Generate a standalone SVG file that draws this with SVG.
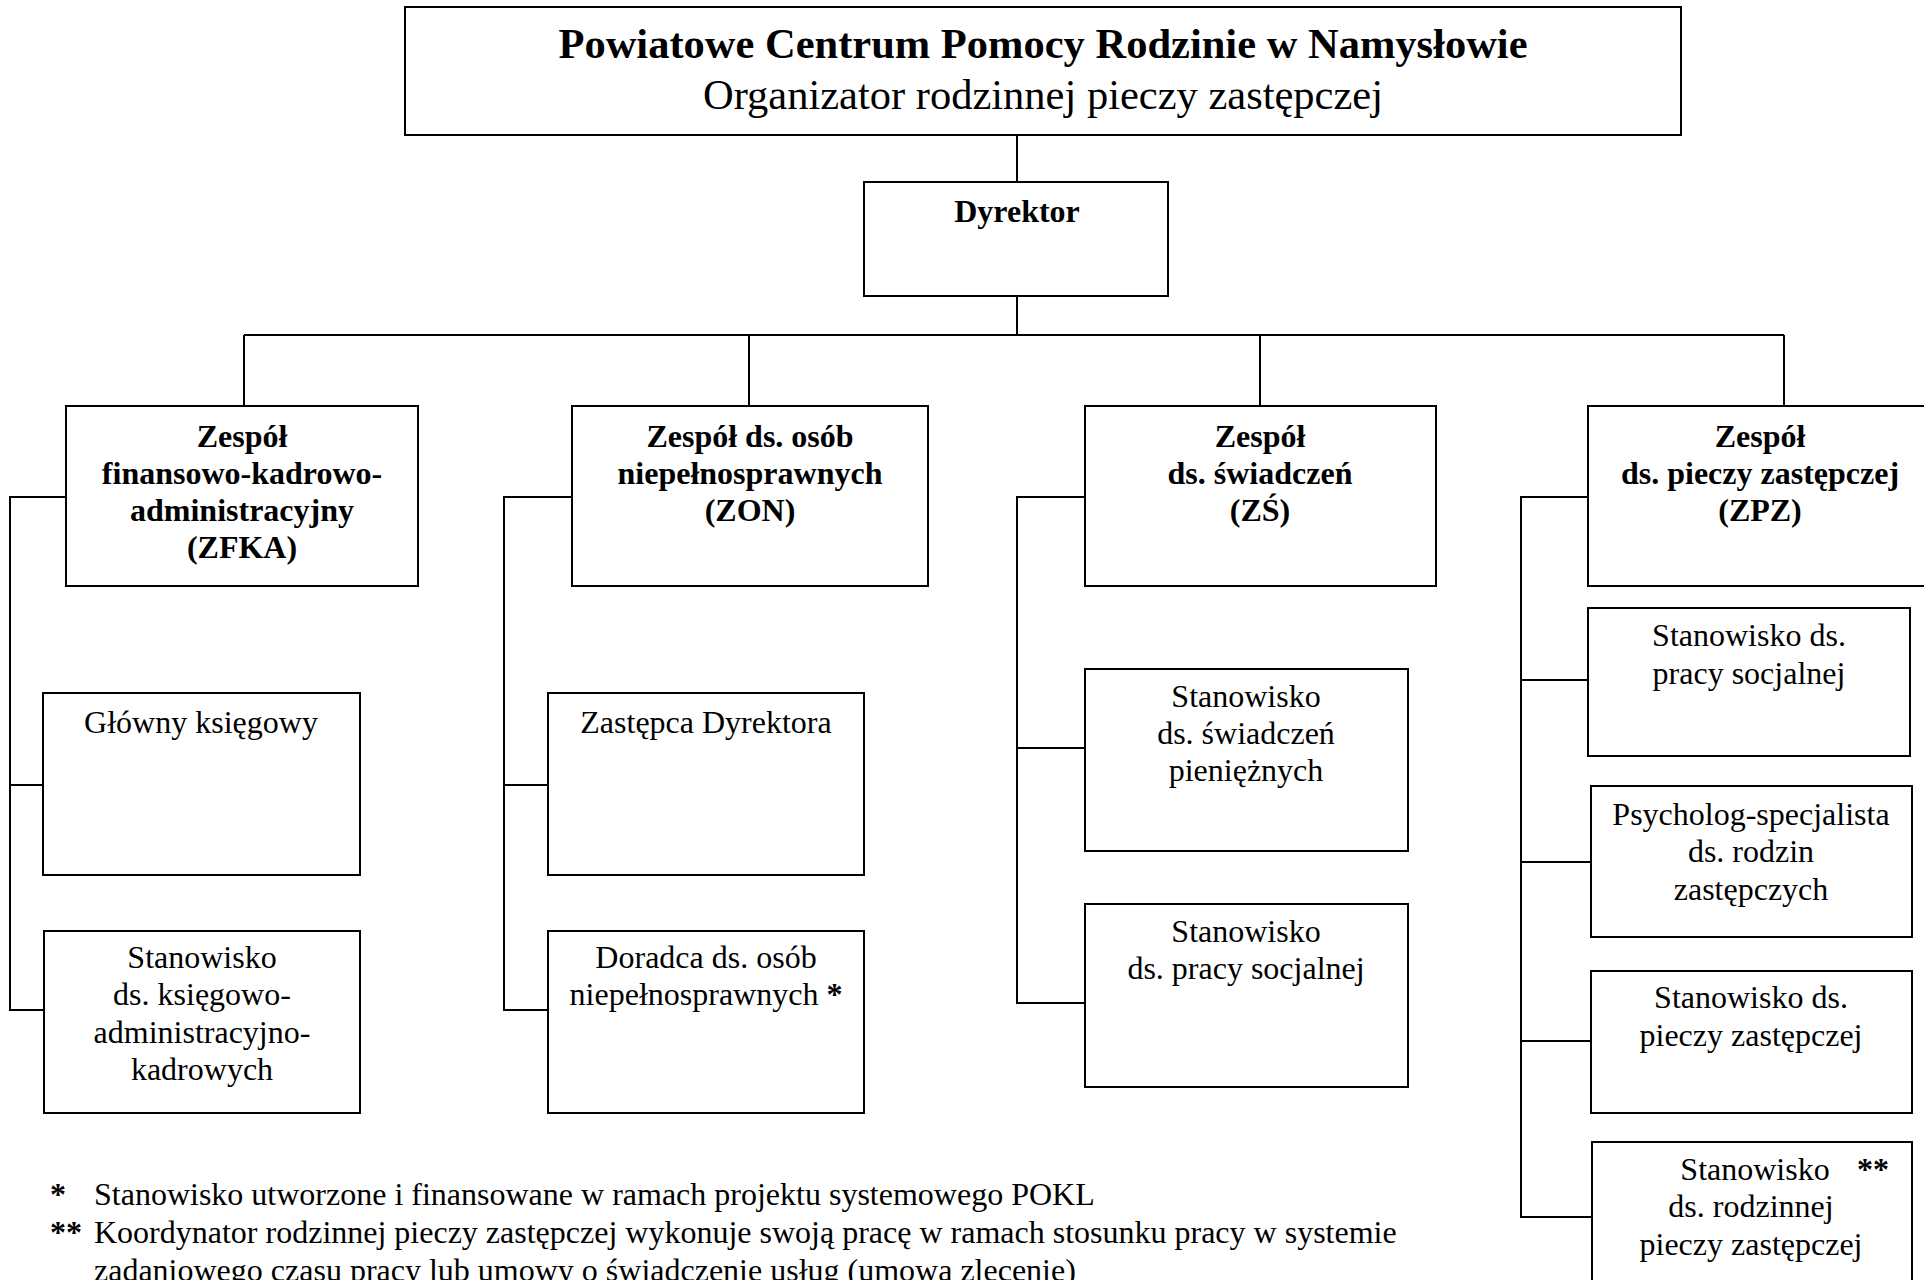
<svg xmlns="http://www.w3.org/2000/svg" width="1924" height="1280" viewBox="0 0 1924 1280">
<style>
.box{fill:#fff;stroke:#000;stroke-width:2}
.ln{fill:none;stroke:#000;stroke-width:2}
text{font-family:"Liberation Serif","Times New Roman",serif;fill:#000;text-anchor:middle;font-size:32px}
.b{font-weight:bold}
.l{text-anchor:start}
</style>
<rect width="1924" height="1280" fill="#fff"/>
<g id="connectors">
<path class="ln" d="M1017 135V182M1017 296V335M244 335H1784M244 335V406M749 335V406M1260 335V406M1784 335V406"/>
<path class="ln" d="M66 497H10V1010H44M10 785H43"/>
<path class="ln" d="M572 497H504V1010H548M504 785H548"/>
<path class="ln" d="M1085 497H1017V1003H1085M1017 748H1085"/>
<path class="ln" d="M1588 497H1521V1217H1592M1521 680H1588M1521 862H1591M1521 1041H1591"/>
</g>
<g id="title">
<rect class="box" x="405" y="7" width="1276" height="128"/>
<text class="b" x="1043" y="58" style="font-size:42.5px">Powiatowe Centrum Pomocy Rodzinie w Namysłowie</text>
<text x="1043" y="109" style="font-size:42.5px">Organizator rodzinnej pieczy zastępczej</text>
</g>
<g id="dyrektor">
<rect class="box" x="864" y="182" width="304" height="114"/>
<text class="b" x="1017" y="222">Dyrektor</text>
</g>
<g id="zfka">
<rect class="box" x="66" y="406" width="352" height="180"/>
<text class="b" x="242" y="447">Zespół</text>
<text class="b" x="242" y="484">finansowo-kadrowo-</text>
<text class="b" x="242" y="521">administracyjny</text>
<text class="b" x="242" y="558">(ZFKA)</text>
</g>
<g id="zon">
<rect class="box" x="572" y="406" width="356" height="180"/>
<text class="b" x="750" y="447">Zespół ds. osób</text>
<text class="b" x="750" y="484">niepełnosprawnych</text>
<text class="b" x="750" y="521">(ZON)</text>
</g>
<g id="zs">
<rect class="box" x="1085" y="406" width="351" height="180"/>
<text class="b" x="1260" y="447">Zespół</text>
<text class="b" x="1260" y="484">ds. świadczeń</text>
<text class="b" x="1260" y="521">(ZŚ)</text>
</g>
<g id="zpz">
<rect class="box" x="1588" y="406" width="345" height="180"/>
<text class="b" x="1760" y="447">Zespół</text>
<text class="b" x="1760" y="484">ds. pieczy zastępczej</text>
<text class="b" x="1760" y="521">(ZPZ)</text>
</g>
<g id="glowny">
<rect class="box" x="43" y="693" width="317" height="182"/>
<text x="201" y="733">Główny księgowy</text>
</g>
<g id="ksiegowo">
<rect class="box" x="44" y="931" width="316" height="182"/>
<text x="202" y="968">Stanowisko</text>
<text x="202" y="1005">ds. księgowo-</text>
<text x="202" y="1043">administracyjno-</text>
<text x="202" y="1080">kadrowych</text>
</g>
<g id="zastepca">
<rect class="box" x="548" y="693" width="316" height="182"/>
<text x="706" y="733">Zastępca Dyrektora</text>
</g>
<g id="doradca">
<rect class="box" x="548" y="931" width="316" height="182"/>
<text x="706" y="968">Doradca ds. osób</text>
<text x="706" y="1005">niepełnosprawnych <tspan class="b">*</tspan></text>
</g>
<g id="swiadczenia">
<rect class="box" x="1085" y="669" width="323" height="182"/>
<text x="1246" y="707">Stanowisko</text>
<text x="1246" y="744">ds. świadczeń</text>
<text x="1246" y="781">pieniężnych</text>
</g>
<g id="praca-zs">
<rect class="box" x="1085" y="904" width="323" height="183"/>
<text x="1246" y="942">Stanowisko</text>
<text x="1246" y="979">ds. pracy socjalnej</text>
</g>
<g id="praca-zpz">
<rect class="box" x="1588" y="608" width="322" height="148"/>
<text x="1749" y="646">Stanowisko ds.</text>
<text x="1749" y="684">pracy socjalnej</text>
</g>
<g id="psycholog">
<rect class="box" x="1591" y="786" width="321" height="151"/>
<text x="1751" y="825">Psycholog-specjalista</text>
<text x="1751" y="862">ds. rodzin</text>
<text x="1751" y="900">zastępczych</text>
</g>
<g id="piecza">
<rect class="box" x="1591" y="971" width="321" height="142"/>
<text x="1751" y="1008">Stanowisko ds.</text>
<text x="1751" y="1046">pieczy zastępczej</text>
</g>
<g id="rodzinna">
<rect class="box" x="1592" y="1142" width="320" height="160"/>
<text x="1755" y="1180">Stanowisko</text>
<text class="b" x="1873" y="1180">**</text>
<text x="1751" y="1217">ds. rodzinnej</text>
<text x="1751" y="1255">pieczy zastępczej</text>
</g>
<g id="footnotes">
<text class="b l" x="50" y="1205">*</text>
<text class="l" x="94" y="1205">Stanowisko utworzone i finansowane w ramach projektu systemowego POKL</text>
<text class="b l" x="50" y="1243">**</text>
<text class="l" x="94" y="1243">Koordynator rodzinnej pieczy zastępczej wykonuje swoją pracę w ramach stosunku pracy w systemie</text>
<text class="l" x="94" y="1281">zadaniowego czasu pracy lub umowy o świadczenie usług (umowa zlecenie)</text>
</g>
</svg>
